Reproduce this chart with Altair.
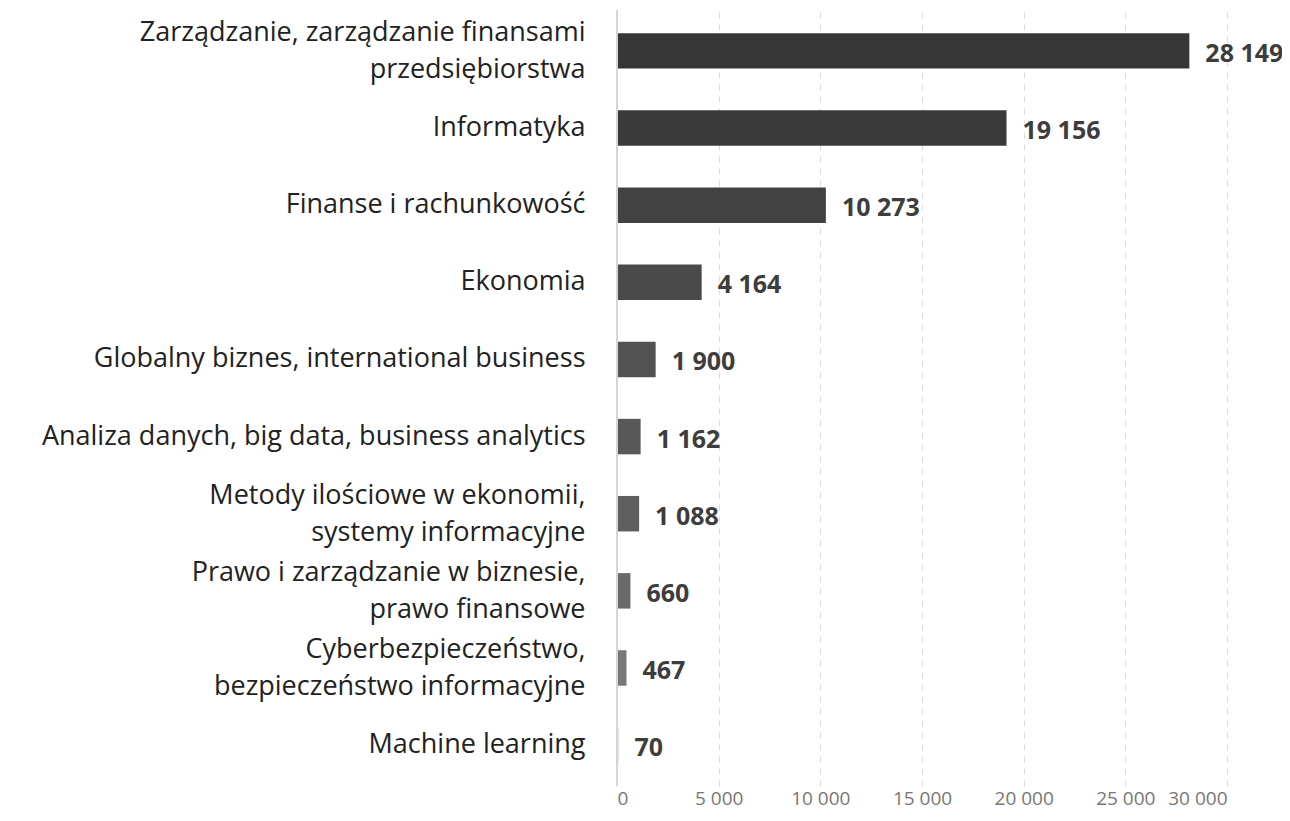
import altair as alt
import pandas as pd

categories = [
    "Zarządzanie, zarządzanie finansami|przedsiębiorstwa",
    "Informatyka",
    "Finanse i rachunkowość",
    "Ekonomia",
    "Globalny biznes, international business",
    "Analiza danych, big data, business analytics",
    "Metody ilościowe w ekonomii,|systemy informacyjne",
    "Prawo i zarządzanie w biznesie,|prawo finansowe",
    "Cyberbezpieczeństwo,|bezpieczeństwo informacyjne",
    "Machine learning",
]
values = [28149, 19156, 10273, 4164, 1900, 1162, 1088, 660, 467, 70]
colors = ["#363636", "#3a3a3a", "#424242", "#4a4a4a", "#525252",
          "#585858", "#5f5f5f", "#6a6a6a", "#787878", "#bdbdbd"]

df = pd.DataFrame({
    "cat": categories,
    "value": values,
    "color": colors,
    "label": [f"{v:,}".replace(",", " ") for v in values],
})

FONT = "Open Sans"

y = alt.Y("cat:N", sort=categories, title=None,
          scale=alt.Scale(paddingInner=0.54, paddingOuter=0.3),
          axis=alt.Axis(labelExpr="split(datum.label, '|')", labelFontSize=27,
                        labelColor="#222222", labelFont=FONT, labelPadding=32,
                        labelLineHeight=37, ticks=False, domain=False,
                        labelOffset={"condition": {"test": "indexof(datum.value, '|') >= 0",
                                                   "value": -18},
                                     "value": 0},
                        labelLimit=700))

base = alt.Chart(df)

bars = base.mark_bar().encode(
    y=y,
    x=alt.X("value:Q", title=None,
            scale=alt.Scale(domain=[0, 30000], nice=False),
            axis=alt.Axis(values=[0, 5000, 10000, 15000, 20000, 25000, 30000],
                          labelExpr="replace(format(datum.value, ','), ',', ' ')",
                          labelFontSize=19, labelColor="#777777", labelFont=FONT,
                          labelPadding=3, ticks=False, domain=False,
                          grid=True, gridColor="#dddddd", gridDash=[6, 6],
                          gridWidth=1)),
    color=alt.Color("color:N", scale=None),
)

zero = alt.Chart(pd.DataFrame({"z": [0]})).mark_rule(color="#d6d6d6", strokeWidth=2).encode(
    x=alt.X("z:Q")
)

text = base.mark_text(align="left", baseline="middle", dx=16, dy=3,
                      fontSize=25, fontWeight="bold", font=FONT,
                      color="#3d3d3d").encode(
    y=alt.Y("cat:N", sort=categories),
    x="value:Q",
    text="label:N",
)

chart = alt.layer(bars, zero, text).properties(
    width=610, height=776,
    autosize=alt.AutoSizeParams(type="none"),
    padding={"left": 609, "top": 2, "right": 55, "bottom": 27},
).configure_view(stroke=None)

chart.save("out.html", embed_options={"renderer": "svg", "actions": False})
